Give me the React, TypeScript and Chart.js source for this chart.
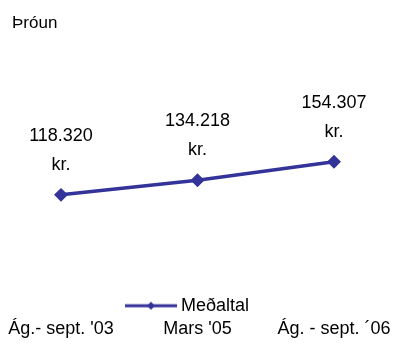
import React, { useEffect, useRef } from "react";
import { Chart, registerables } from "chart.js";

Chart.register(...registerables);

const categories = ["Ág.- sept. '03", "Mars '05", "Ág. - sept. ´06"];
const averageValues = [118.32, 134.218, 154.307];
const seriesName = "Meðaltal";
const titleText = "Þróun";
const unitText = "kr.";

const FONT = "'Liberation Sans', Arial, sans-serif";
const NAVY = "#333399";

function makeLegendIcon(): HTMLCanvasElement {
  const c = document.createElement("canvas");
  c.width = 52;
  c.height = 12;
  const g = c.getContext("2d")!;
  g.strokeStyle = NAVY;
  g.lineWidth = 3;
  g.beginPath();
  g.moveTo(0, 6);
  g.lineTo(52, 6);
  g.stroke();
  g.fillStyle = NAVY;
  g.beginPath();
  g.moveTo(26, 2);
  g.lineTo(30, 6);
  g.lineTo(26, 10);
  g.lineTo(22, 6);
  g.closePath();
  g.fill();
  return c;
}

const dataLabelPlugin = {
  id: "dataLabels",
  afterDatasetsDraw(chart: any) {
    const meta = chart.getDatasetMeta(0);
    const ctx = chart.ctx;
    ctx.save();
    ctx.font = `18px ${FONT}`;
    ctx.fillStyle = "#000";
    ctx.textAlign = "center";
    ctx.textBaseline = "alphabetic";
    meta.data.forEach((pt: any, i: number) => {
      const v = chart.data.datasets[0].data[i] as number;
      ctx.fillText(v.toFixed(3), pt.x, pt.y - 54);
      ctx.fillText(unitText, pt.x, pt.y - 25);
    });
    ctx.restore();
  },
};

export default function App() {
  const ref = useRef<HTMLCanvasElement>(null);
  useEffect(() => {
    const icon = makeLegendIcon();
    const chart = new Chart(ref.current!, {
      type: "line",
      data: {
        labels: categories,
        datasets: [
          {
            label: seriesName,
            data: averageValues,
            borderColor: NAVY,
            backgroundColor: NAVY,
            borderWidth: 3.5,
            pointStyle: "rectRot",
            pointRadius: 4.5,
            pointBackgroundColor: NAVY,
            pointBorderColor: NAVY,
            yAxisID: "y",
          },
        ],
      },
      options: {
        animation: false,
        responsive: false,
        layout: { padding: { left: 12, right: 30, top: 0, bottom: 3.7 } },
        plugins: {
          title: {
            display: true,
            text: titleText,
            align: "start",
            color: "#000",
            font: { family: FONT, size: 17, weight: "normal" },
            padding: { top: 13, bottom: 0 },
          },
          legend: {
            position: "bottom",
            maxHeight: 21,
            labels: {
              color: "#000",
              font: { family: FONT, size: 18 },
              usePointStyle: true,
              pointStyleWidth: 42,
              padding: 0,
              generateLabels: () => [
                {
                  text: seriesName,
                  pointStyle: icon as any,
                  fillStyle: NAVY,
                  strokeStyle: NAVY,
                  lineWidth: 0,
                  hidden: false,
                  datasetIndex: 0,
                } as any,
              ],
            },
          },
          tooltip: { enabled: false },
        },
        scales: {
          x: {
            weight: 2000,
            offset: false,
            grid: { display: false, drawTicks: false },
            border: { display: false },
            ticks: {
              color: "#000",
              font: { family: FONT, size: 18, lineHeight: 1.2 },
              padding: 1,
              maxRotation: 0,
              autoSkip: false,
            },
          },
          y: {
            min: 7.5,
            max: 294,
            grid: { display: false, drawTicks: false },
            border: { display: false },
            ticks: { display: false },
            afterFit: (s: any) => {
              s.width = 49;
            },
          },
          y1: {
            position: "right",
            min: 0,
            max: 1,
            grid: { display: false, drawTicks: false },
            border: { display: false },
            ticks: { display: false },
            afterFit: (s: any) => {
              s.width = 33;
            },
          },
        },
      },
      plugins: [dataLabelPlugin],
    });
    return () => chart.destroy();
  }, []);
  return (
    <div style={{ position: "fixed", left: 0, top: 0, width: 397, height: 345, background: "#fff" }}>
      <canvas ref={ref} width={397} height={345} style={{ width: 397, height: 345 }} />
    </div>
  );
}
